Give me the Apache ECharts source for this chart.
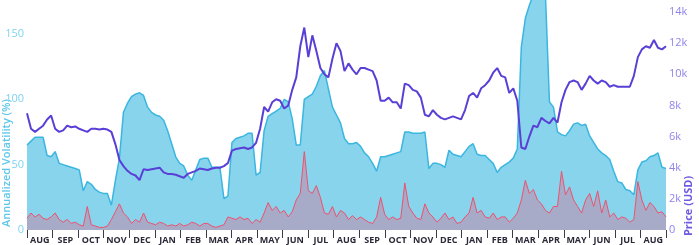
<!DOCTYPE html>
<html><head><meta charset="utf-8">
<script src="https://cdn.jsdelivr.net/npm/echarts@6/dist/echarts.min.js"></script>
<style>html,body{margin:0;padding:0;background:#fff}#c{width:699px;height:245px}</style>
</head><body><div id="c"></div>
<script>
// Month labels along the bottom (Aug 2018 – Aug 2020)
const months = ['AUG','SEP','OCT','NOV','DEC','JAN','FEB','MAR','APR','MAY','JUN','JUL',
  'AUG','SEP','OCT','NOV','DEC','JAN','FEB','MAR','APR','MAY','JUN','JUL','AUG'];

// 30-day annualized volatility (%), sampled about every 4.8 days
const volatility = [
  65,68,71,71,71,57,56,60,51,50,
  49,48,47,46,30,37,35,31,29,28,
  28,19,38,55,90,97,102,104,105,103,
  94,90,88,87,84,76,66,56,51,49,
  42,38,46,54,55,55,48,48,48,24,
  26,67,70,71,72,74,74,42,44,76,
  87,89,91,93,100,98,85,65,65,100,
  102,104,110,118,122,108,94,88,82,70,
  66,66,67,64,59,56,51,45,56,56,
  57,58,59,60,75,75,74,74,74,75,
  47,51,51,50,48,61,58,57,56,60,
  64,66,58,57,57,54,51,44,48,50,
  52,55,62,140,162,172,180,180,180,180,
  98,94,75,73,72,76,81,82,80,81,
  72,67,62,59,57,54,45,37,36,31,
  30,27,46,52,53,56,57,59,48,47
];

// Daily volatility (%), same sampling
const dailyVol = [
  9,13,10,12,9,8,10,13,8,6,
  8,5,6,4,3,18,4,3,2,2,
  3,8,14,20,13,10,5,8,6,13,
  6,5,4,6,5,3,4,3,5,3,
  4,6,5,3,5,5,3,2,3,4,
  10,9,8,10,8,9,5,8,6,13,
  21,15,18,13,15,10,14,23,28,60,
  30,28,34,25,13,12,18,10,15,13,
  8,11,8,10,8,6,5,10,25,12,
  8,10,8,9,36,18,13,9,8,20,
  13,10,6,9,13,8,10,5,6,10,
  13,25,13,15,10,9,13,8,10,10,
  6,9,13,23,38,28,31,23,20,15,
  13,18,18,45,27,33,23,18,13,23,
  28,18,30,13,23,10,13,8,10,9,
  6,8,37,23,15,21,18,13,14,10
];

// BTC price (USD), same sampling
const price = [
  7500,6500,6300,6500,6700,7100,7350,6500,6300,6400,
  6700,6600,6650,6500,6400,6300,6500,6500,6450,6500,
  6450,6300,5500,4500,4100,3800,3600,3500,3200,3900,
  3850,3900,3950,4000,3700,3600,3600,3550,3450,3350,
  3600,3700,3800,3950,3900,3850,3950,4000,4000,4100,
  4300,5100,5200,5250,5300,5200,5300,5600,6500,7900,
  7600,8200,8400,8300,7800,8000,9000,9800,11800,13000,
  11100,12500,11500,10400,10000,9800,11000,12000,11500,10200,
  10700,10300,10000,10400,10400,10300,10200,9600,8300,8300,
  8500,8200,8200,7800,9400,9300,9000,8900,8500,7400,
  7300,7700,7400,7200,7100,7200,7300,7200,7100,7700,
  8600,8800,8500,9100,9300,9600,10100,10400,9900,9800,
  8800,9100,8300,5300,5200,6000,6700,6600,7200,7000,
  6850,7200,6900,8200,9000,9500,9600,9500,9000,9400,
  9900,9600,9400,9600,9500,9200,9300,9200,9200,9200,
  9200,9900,11100,11600,11800,11700,12200,11700,11600,11800
];

const volTicks = [0,50,100,150];
const priceTicks = [0,2000,4000,6000,8000,10000,12000,14000];
const samples = volatility.map((_, i) => i);

const FONT = 'Open Sans';
const chart = echarts.init(document.getElementById('c'), null, {renderer:'canvas'});
chart.setOption({
  animation: false,
  backgroundColor: '#ffffff',
  grid: {left: 27, right: 33, top: 0, bottom: 15, containLabel: false},
  xAxis: [
    {type:'category', data: samples, boundaryGap:false, show:false},
    {type:'category', data: months, boundaryGap:true, position:'bottom', offset:5,
     axisLine:{show:false},
     axisTick:{show:true, length:8, lineStyle:{color:'#3a3a48', width:1}},
     axisLabel:{interval:0, margin:1, color:'#2a2a38', fontSize:9, fontWeight:'bold', fontFamily:FONT},
     splitLine:{show:false}}
  ],
  yAxis: [
    {type:'value', min:0, max:176, interval:50, position:'left',
     axisLine:{show:false}, axisTick:{show:false}, splitLine:{show:false},
     axisLabel:{margin:3, color:'#7fd3f0', fontSize:11, fontFamily:FONT,
       formatter: v => volTicks.includes(v) ? String(v) : ''}},
    {type:'value', min:0, max:14770, interval:2000, position:'right',
     axisLine:{show:false}, axisTick:{show:false}, splitLine:{show:false},
     axisLabel:{margin:3, color:'#8f84ec', fontSize:11, fontFamily:FONT,
       formatter: v => priceTicks.includes(v) ? (v === 0 ? '0' : (v/1000) + 'k') : ''}}
  ],
  graphic: [
    {type:'text', x:7, y:163, rotation:Math.PI/2,
     style:{text:'Annualized Volatility (%)', fill:'#5cc6ec', font:'600 11px "Open Sans"',
       textAlign:'center', textVerticalAlign:'middle'}},
    {type:'text', x:689, y:206, rotation:Math.PI/2,
     style:{text:'Price (USD)', fill:'#6d5ae0', font:'bold 11px "Open Sans"',
       textAlign:'center', textVerticalAlign:'middle'}}
  ],
  series: [
    {type:'line', data: volatility, xAxisIndex:0, yAxisIndex:0, symbol:'none',
     lineStyle:{color:'#3ab6e0', width:1.5}, areaStyle:{color:'#88d4ec', opacity:1}, z:1},
    {type:'line', data: dailyVol, xAxisIndex:0, yAxisIndex:0, symbol:'none',
     lineStyle:{color:'#f0506e', width:1}, areaStyle:{color:'rgba(235,85,120,0.45)'}, z:2},
    {type:'line', data: price, xAxisIndex:0, yAxisIndex:1, symbol:'none',
     lineStyle:{color:'#5a3fd6', width:2}, z:3}
  ]
});
</script></body></html>
